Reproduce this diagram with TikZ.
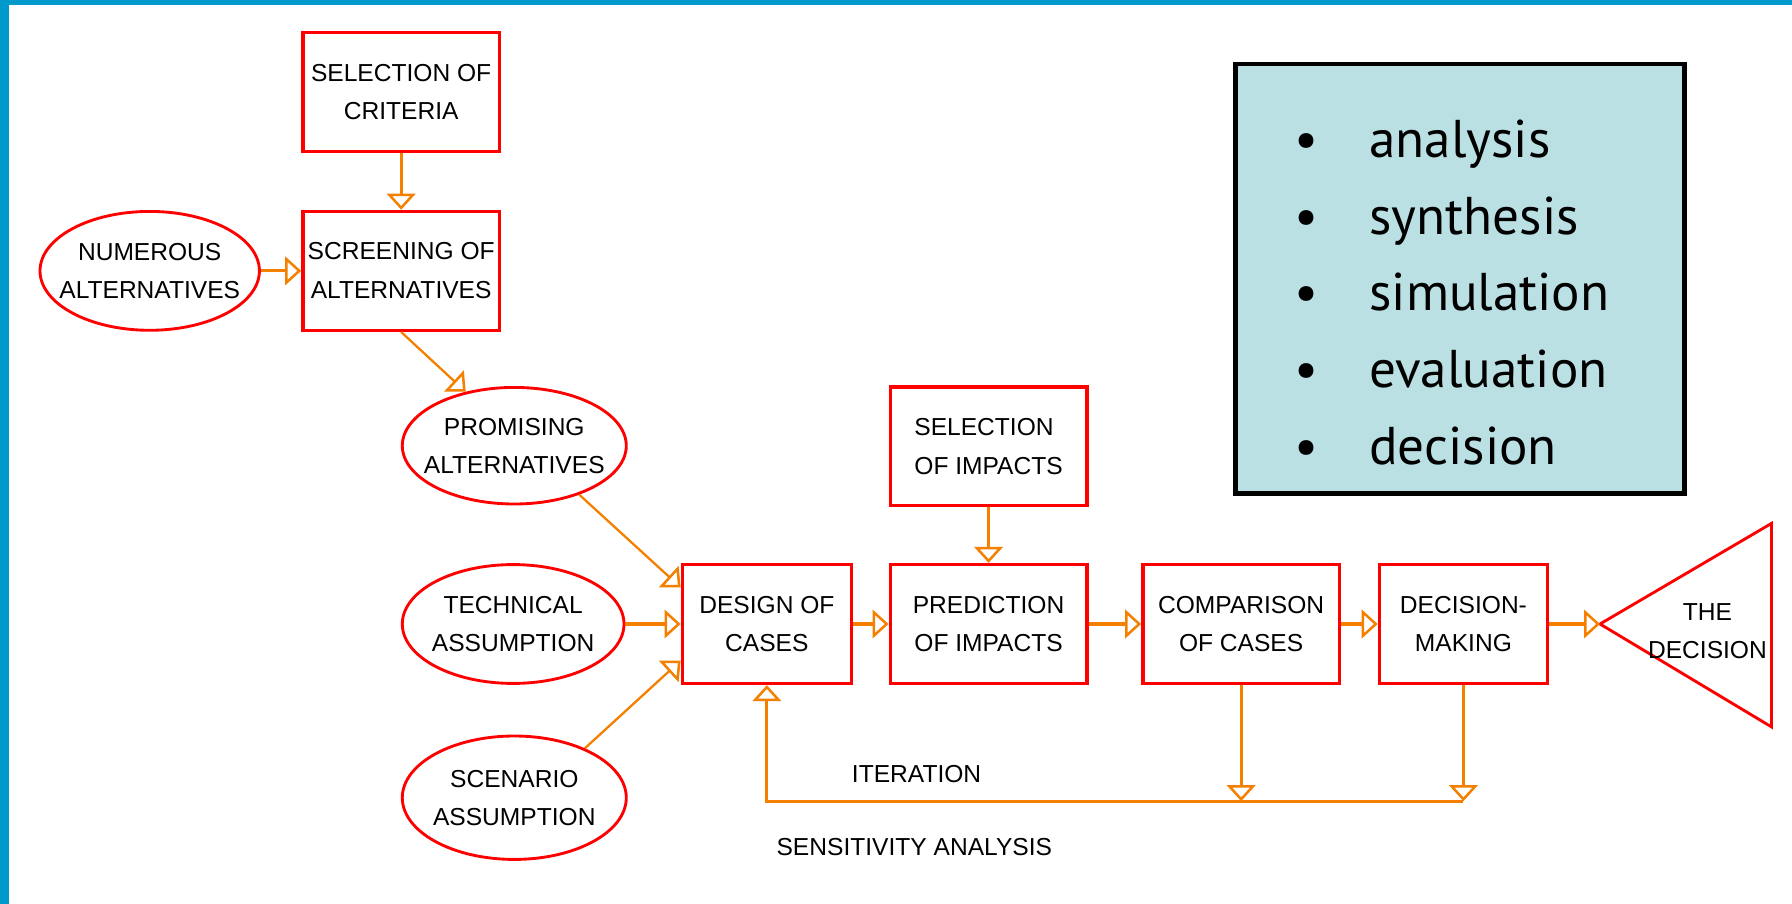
\documentclass[tikz,border=0pt]{standalone}
\usepackage{fontspec}
\setmainfont{Liberation Sans}
\newfontfamily\listfont{PT Sans}
\usetikzlibrary{arrows.meta,shapes.geometric,calc}
\definecolor{frameblue}{RGB}{0,153,204}
\definecolor{boxred}{RGB}{255,0,0}
\definecolor{connorange}{RGB}{245,128,0}
\definecolor{tealfill}{RGB}{187,224,227}
\begin{document}
\begin{tikzpicture}[x=1pt,y=-1pt,
  box/.style={draw=boxred, line width=3pt, minimum width=172pt, minimum height=104pt,
    inner sep=0pt, align=center, font=\fontsize{21.5}{34}\selectfont},
  oval/.style={draw=boxred, line width=2.5pt, ellipse, minimum width=196pt,
    minimum height=104pt, inner sep=0pt},
  lbl/.style={align=center, inner sep=0pt, font=\fontsize{21.5}{33}\selectfont},
  conn/.style={draw=connorange, line width=2.8pt,
    -{Triangle[open, length=14pt, width=25pt, line width=2.2pt, fill=white]}},
  bul/.style={inner sep=0pt, font=\listfont\fontsize{46.5}{50}\selectfont},
  itm/.style={inner sep=0pt, font=\listfont\fontsize{46.5}{50}\selectfont}
]
\useasboundingbox (0,0) rectangle (1568,791);
\fill[white] (0,0) rectangle (1568,791);
\fill[frameblue] (0,0) rectangle (1568,4);
\fill[frameblue] (0,0) rectangle (8,791);

% boxes
\node[box] (crit) at (351,80.5) {SELECTION OF\\CRITERIA};
\node[box] (screen) at (351,237) {SCREENING OF\\ALTERNATIVES};
\node[box, align=left] (imp) at (865,390.5) {SELECTION\\OF IMPACTS};
\node[box] (pred) at (865,546) {PREDICTION\\OF IMPACTS};
\node[box, minimum width=148pt] (design) at (671,546) {DESIGN OF\\CASES};
\node[box] (comp) at (1086,546) {COMPARISON\\OF CASES};
\node[box, minimum width=147pt] (dm) at (1280.5,546) {DECISION-\\MAKING};

% ellipses
\node[oval, minimum width=192pt] (num) at (131,237) {};
\node[lbl] (numt) at (num.center) {NUMEROUS\\ALTERNATIVES};
\node[oval, minimum height=102pt] (prom) at (450,390) {};
\node[lbl] (promt) at (prom.center) {PROMISING\\ALTERNATIVES};
\node[oval, minimum width=194pt] (tech) at (449,546) {};
\node[lbl] (techt) at (tech.center) {TECHNICAL\\ASSUMPTION};
\node[oval, minimum height=108pt] (scen) at (450,698) {};
\node[lbl] (scent) at (scen.center) {SCENARIO\\ASSUMPTION};

% the decision triangle
\coordinate (apex) at (1400,546);
\coordinate (tri1) at (1550,458);
\coordinate (tri2) at (1550,636);
\draw[boxred, line width=2.5pt, line join=miter] (apex) -- (tri1) -- (tri2) -- cycle;
\node[lbl] (dect) at (1494,552) {THE\\DECISION};

% connectors
\draw[conn] (crit.south) -- (screen.north);
\draw[conn] (num.east) -- (screen.west);
\draw[conn, line width=2pt] (screen.south) -- (prom.132);
\draw[conn, line width=2pt] (prom.-37) -- ($(design.north west)!0.2!(design.south west)$);
\draw[conn] (tech.east) -- (design.west);
\draw[conn, line width=2pt] (scen.35) -- ($(design.north west)!0.8!(design.south west)$);
\draw[conn] (imp.south) -- (pred.north);
\draw[conn] (design.east) -- (pred.west);
\draw[conn] (pred.east) -- (comp.west);
\draw[conn] (comp.east) -- (dm.west);
\draw[conn] (dm.east) -- (apex);

\coordinate (base) at (0,701);
\draw[conn] (comp.south) -- (comp.south |- base);
\draw[conn] (dm.south) -- (dm.south |- base);
\draw[conn, line join=miter] (dm.south |- base) -- (design.south |- base) -- (design.south);

\node[lbl] (iter) at (802,677) {ITERATION};
\node[lbl] (sens) at (800,741) {SENSITIVITY ANALYSIS};

% panel
\node[draw=black, line width=4pt, fill=tealfill, minimum width=393pt,
  minimum height=376pt, inner sep=0pt] (panel) at (1277.5,244) {};
\foreach \w [count=\i] in {analysis,synthesis,simulation,evaluation,decision} {
  \node[bul, anchor=base] (bul\i) at (1143,{138+67*(\i-1)}) {\textbullet};
  \node[itm, anchor=base west] (itm\i) at (1198,{138+67*(\i-1)}) {\w};
}
\end{tikzpicture}
\end{document}
